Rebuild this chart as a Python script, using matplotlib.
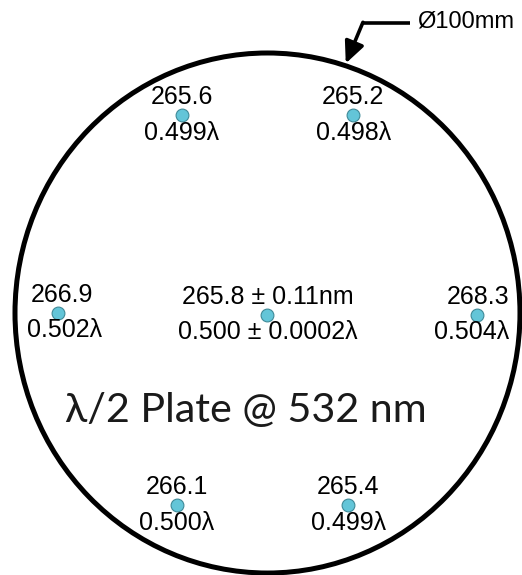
import matplotlib
matplotlib.use('Agg')
import matplotlib.pyplot as plt
from matplotlib.patches import Ellipse


# measurement sites on the plate (mm from centre)
site_x = [-17, 17, -41.5, 0, 41.5, -18, 16]
site_y = [38, 38, 0, -0.3, -0.3, -37, -37]
# retardance at each site
retard_nm = ['265.6', '265.2', '266.9', '265.8 ± 0.11nm', '268.3', '266.1', '265.4']
retard_wave = ['0.499λ', '0.498λ', '0.502λ', '0.500 ± 0.0002λ', '0.504λ', '0.500λ', '0.499λ']
# small nudges for labels near the rim (points)
label_dx_top = [0, 0, 3, 0, 0.5, 0, 0]
label_dx_bot = [0, 0, 5, 0, -3.6, 0, 0]

plate_diam = 100
title = 'λ/2 Plate @ 532 nm'
diam_label = 'Ø100mm'

fig = plt.figure(figsize=(5.22, 5.75), dpi=100)
ax = fig.add_axes([0, 0, 1, 1])
ax.axis('off')
ax.set_xlim(-52.97, 50.40)
ax.set_ylim(-50.38, 60.19)

# the plate
ax.add_patch(Ellipse((0, 0), plate_diam, plate_diam, fill=False,
                     edgecolor='black', lw=3.6))

# points + labels
ax.scatter(site_x, site_y, s=85, color='#63c5d8', edgecolor='#3f8a98',
           linewidth=0.8, zorder=3)
for i in range(len(site_x)):
    ax.annotate(retard_nm[i], (site_x[i], site_y[i]),
                xytext=(label_dx_top[i], 13), textcoords='offset points',
                ha='center', va='center', fontsize=18,
                family=['Liberation Sans', 'DejaVu Sans'], color='black')
    ax.annotate(retard_wave[i], (site_x[i], site_y[i]),
                xytext=(label_dx_bot[i], -12.5), textcoords='offset points',
                ha='center', va='center', fontsize=18,
                family=['Liberation Sans', 'DejaVu Sans'], color='black')

# title inside plate
ax.text(-4.3, -18.7, title, ha='center', va='center', fontsize=29.7,
        family=['Lato', 'DejaVu Sans'], color='#1a1a1a')

# diameter callout
ax.plot([28.2, 18.7], [55.8, 55.8], color='black', lw=2.6,
        solid_capstyle='butt')
ax.annotate('', xy=(15.5, 48.0), xytext=(18.9, 55.9),
            arrowprops=dict(arrowstyle='-|>,head_length=1.3,head_width=0.6',
                            color='black', lw=2.6, shrinkA=0, shrinkB=0))
ax.text(29.6, 56.0, diam_label, ha='left', va='center', fontsize=17,
        family=['Liberation Sans', 'DejaVu Sans'])

fig.savefig('out.png', dpi=100)
